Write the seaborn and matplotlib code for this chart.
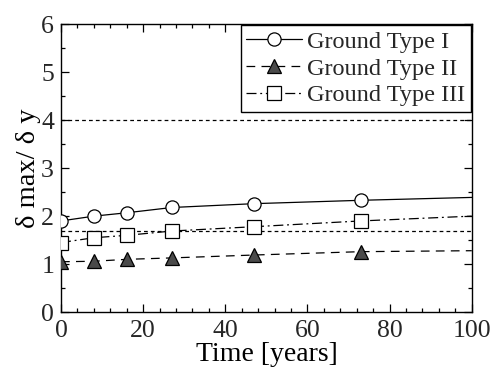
import matplotlib
matplotlib.use("Agg")
import matplotlib.pyplot as plt
import seaborn as sns
import pandas as pd
from matplotlib.ticker import MultipleLocator

sns.set_theme(style="ticks")
plt.rcParams['font.family'] = ['Liberation Serif', 'DejaVu Serif']

# Data
time = [0, 8, 16, 27, 47, 73, 100]
type1 = [1.90, 2.00, 2.07, 2.18, 2.26, 2.33, 2.39]
type2 = [1.05, 1.06, 1.10, 1.13, 1.19, 1.26, 1.28]
type3 = [1.45, 1.55, 1.60, 1.69, 1.78, 1.90, 2.00]
labels = ["Ground Type I", "Ground Type II", "Ground Type III"]
ref_levels = [4.0, 1.7]

df = pd.DataFrame({"time": time * 3,
                   "value": type1 + type2 + type3,
                   "series": [labels[0]] * len(time) + [labels[1]] * len(time) + [labels[2]] * len(time)})

fig = plt.figure(figsize=(4.94, 3.83), dpi=100)
ax = fig.add_axes([0.1235, 0.185, 0.8315, 0.752])

for lv in ref_levels:
    ax.axhline(lv, color="black", lw=0.9, ls=(0, (3, 2.5)), zorder=1)

styles = [
    dict(linestyle="-", marker="o", mfc="white", mec="black"),
    dict(linestyle=(0, (7, 5)), marker="^", mfc="#4a4a4a", mec="black"),
    dict(linestyle=(0, (8, 3, 1.5, 3)), marker="s", mfc="white", mec="black"),
]
for lab, st in zip(labels, styles):
    sub = df[df["series"] == lab]
    sns.lineplot(data=sub, x="time", y="value", ax=ax, color="black", lw=0.9,
                 markersize=9.5, markeredgewidth=0.9, markevery=list(range(6)),
                 label=lab, zorder=3, **st)

ax.set_xlim(0, 100)
ax.set_ylim(0, 6)
ax.xaxis.set_major_locator(MultipleLocator(20))
ax.xaxis.set_minor_locator(MultipleLocator(4))
ax.yaxis.set_major_locator(MultipleLocator(1))
ax.yaxis.set_minor_locator(MultipleLocator(0.5))
ax.tick_params(which="both", direction="in", top=True, right=True, color="black",
               labelsize=18.5, width=0.9)
ax.tick_params(axis="x", pad=6)
ax.tick_params(axis="y", pad=5)
ax.tick_params(which="major", length=6)
ax.tick_params(which="minor", length=3)
for sp in ax.spines.values():
    sp.set_color("black")
    sp.set_linewidth(1.0)

ax.set_xlabel("Time [years]", fontsize=20, color="black", labelpad=0)
ax.set_ylabel("δ max/ δ y", fontsize=20.5, color="black", labelpad=0)

leg = ax.legend(loc="upper right", fontsize=17.5, frameon=True, fancybox=False,
                edgecolor="black", framealpha=1, borderaxespad=0.05,
                handlelength=2.3, handletextpad=0.2, labelspacing=0.2,
                borderpad=0.22)
leg.get_frame().set_linewidth(1.0)

fig.savefig("out.png", dpi=100)
